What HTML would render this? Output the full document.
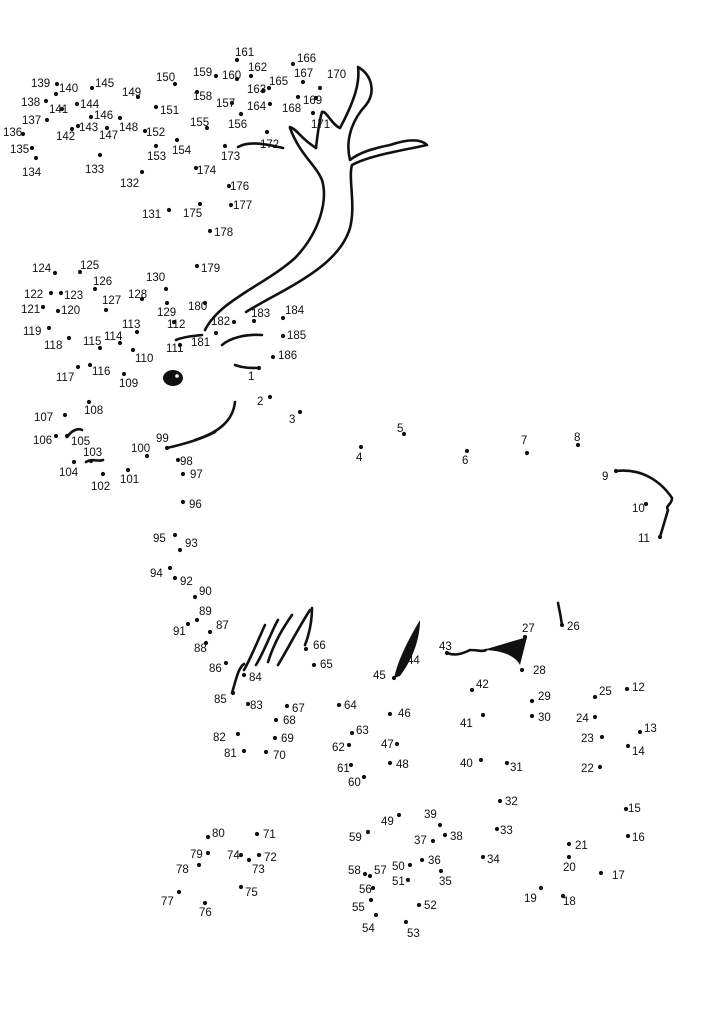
<!DOCTYPE html>
<html><head><meta charset="utf-8"><style>
html,body{margin:0;padding:0;background:#fff}
svg{display:block}
text{font-family:"Liberation Sans",Arial,sans-serif;font-size:11.5px;fill:#111}
</style></head><body>
<svg width="718" height="1032" viewBox="0 0 718 1032" xmlns="http://www.w3.org/2000/svg">
<g fill="none" stroke="#111" stroke-width="2.6" stroke-linecap="round" stroke-linejoin="round">
<path d="M205,330 C220,300 265,285 295,258 C320,232 328,200 322,180 C316,165 300,155 290,128"/>
<path d="M316,148 C300,138 298,130 290,127"/>
<path d="M316,148 C318,130 320,118 322,112"/>
<path d="M246,312 C285,288 338,268 350,228 C356,205 348,178 352,165 C370,155 405,150 427,145 C420,138 405,140 390,145 C375,148 360,152 350,160 C345,140 352,120 366,105 C376,92 372,75 358,67 C360,82 355,100 340,128 C332,125 326,110 322,112"/>
<path d="M238,147 C250,140 270,145 283,148"/>
<path d="M222,345 C230,338 245,334 262,335"/>
<path d="M235,365 C243,368 250,368 258,368"/>
<path d="M235,402 C233,420 220,432 195,440"/>
<path d="M176,340 C185,336 195,336 202,335"/>
<path d="M67,437 C72,430 78,428 82,430"/>
<path d="M86,462 C92,458 98,462 103,460"/>
<path d="M167,448 C180,445 200,440 215,432"/>
<path d="M616,471 C640,468 660,480 672,498 C672,505 665,505 668,510 C665,520 662,530 660,537"/>
<path d="M558,603 C560,612 561,618 562,625"/>
<path d="M232,693 C236,680 238,668 244,664 M244,670 C250,660 258,640 265,625 M256,665 C265,650 272,630 278,620 M268,662 C275,640 285,625 292,615 M278,665 C290,645 300,625 310,610 M305,645 C310,632 312,620 312,608"/>
<path d="M447,653 C455,656 462,654 470,650 M470,650 C478,650 483,652 486,650"/>
</g>
<path d="M483,650 L527,637 L520,665 C515,655 500,650 483,650 Z" fill="#111"/>
<path d="M394,678 C398,660 408,640 420,620 C420,640 412,660 400,676 Z" fill="#111"/>
<ellipse cx="173" cy="378" rx="10" ry="8" fill="#111"/>
<circle cx="177" cy="376" r="1.8" fill="#fff"/>
<g fill="#111">
<circle cx="259" cy="368" r="2.1"/><circle cx="270" cy="397" r="2.1"/><circle cx="300" cy="412" r="2.1"/><circle cx="361" cy="447" r="2.1"/><circle cx="404" cy="434" r="2.1"/><circle cx="467" cy="451" r="2.1"/><circle cx="527" cy="453" r="2.1"/><circle cx="578" cy="445" r="2.1"/><circle cx="616" cy="471" r="2.1"/><circle cx="646" cy="504" r="2.1"/><circle cx="660" cy="537" r="2.1"/><circle cx="627" cy="689" r="2.1"/><circle cx="640" cy="732" r="2.1"/><circle cx="628" cy="746" r="2.1"/><circle cx="626" cy="809" r="2.1"/><circle cx="628" cy="836" r="2.1"/><circle cx="601" cy="873" r="2.1"/><circle cx="563" cy="896" r="2.1"/><circle cx="541" cy="888" r="2.1"/><circle cx="569" cy="857" r="2.1"/><circle cx="569" cy="844" r="2.1"/><circle cx="600" cy="767" r="2.1"/><circle cx="602" cy="737" r="2.1"/><circle cx="595" cy="717" r="2.1"/><circle cx="595" cy="697" r="2.1"/><circle cx="562" cy="625" r="2.1"/><circle cx="525" cy="637" r="2.1"/><circle cx="522" cy="670" r="2.1"/><circle cx="532" cy="701" r="2.1"/><circle cx="532" cy="716" r="2.1"/><circle cx="507" cy="763" r="2.1"/><circle cx="500" cy="801" r="2.1"/><circle cx="497" cy="829" r="2.1"/><circle cx="483" cy="857" r="2.1"/><circle cx="441" cy="871" r="2.1"/><circle cx="422" cy="860" r="2.1"/><circle cx="433" cy="841" r="2.1"/><circle cx="445" cy="835" r="2.1"/><circle cx="440" cy="825" r="2.1"/><circle cx="481" cy="760" r="2.1"/><circle cx="483" cy="715" r="2.1"/><circle cx="472" cy="690" r="2.1"/><circle cx="447" cy="653" r="2.1"/><circle cx="408" cy="647" r="2.1"/><circle cx="394" cy="678" r="2.1"/><circle cx="390" cy="714" r="2.1"/><circle cx="397" cy="744" r="2.1"/><circle cx="390" cy="763" r="2.1"/><circle cx="399" cy="815" r="2.1"/><circle cx="410" cy="865" r="2.1"/><circle cx="408" cy="880" r="2.1"/><circle cx="419" cy="905" r="2.1"/><circle cx="406" cy="922" r="2.1"/><circle cx="376" cy="915" r="2.1"/><circle cx="371" cy="900" r="2.1"/><circle cx="373" cy="888" r="2.1"/><circle cx="370" cy="876" r="2.1"/><circle cx="365" cy="874" r="2.1"/><circle cx="368" cy="832" r="2.1"/><circle cx="364" cy="777" r="2.1"/><circle cx="351" cy="765" r="2.1"/><circle cx="349" cy="745" r="2.1"/><circle cx="352" cy="733" r="2.1"/><circle cx="339" cy="705" r="2.1"/><circle cx="314" cy="665" r="2.1"/><circle cx="306" cy="649" r="2.1"/><circle cx="287" cy="706" r="2.1"/><circle cx="276" cy="720" r="2.1"/><circle cx="275" cy="738" r="2.1"/><circle cx="266" cy="752" r="2.1"/><circle cx="257" cy="834" r="2.1"/><circle cx="259" cy="855" r="2.1"/><circle cx="249" cy="860" r="2.1"/><circle cx="241" cy="855" r="2.1"/><circle cx="241" cy="887" r="2.1"/><circle cx="205" cy="903" r="2.1"/><circle cx="179" cy="892" r="2.1"/><circle cx="199" cy="865" r="2.1"/><circle cx="208" cy="853" r="2.1"/><circle cx="208" cy="837" r="2.1"/><circle cx="244" cy="751" r="2.1"/><circle cx="238" cy="734" r="2.1"/><circle cx="248" cy="704" r="2.1"/><circle cx="244" cy="675" r="2.1"/><circle cx="233" cy="693" r="2.1"/><circle cx="226" cy="663" r="2.1"/><circle cx="210" cy="632" r="2.1"/><circle cx="206" cy="643" r="2.1"/><circle cx="197" cy="620" r="2.1"/><circle cx="195" cy="597" r="2.1"/><circle cx="188" cy="624" r="2.1"/><circle cx="175" cy="578" r="2.1"/><circle cx="180" cy="550" r="2.1"/><circle cx="170" cy="568" r="2.1"/><circle cx="175" cy="535" r="2.1"/><circle cx="183" cy="502" r="2.1"/><circle cx="183" cy="474" r="2.1"/><circle cx="178" cy="460" r="2.1"/><circle cx="167" cy="448" r="2.1"/><circle cx="147" cy="456" r="2.1"/><circle cx="128" cy="470" r="2.1"/><circle cx="103" cy="474" r="2.1"/><circle cx="91" cy="461" r="2.1"/><circle cx="74" cy="462" r="2.1"/><circle cx="67" cy="436" r="2.1"/><circle cx="56" cy="436" r="2.1"/><circle cx="65" cy="415" r="2.1"/><circle cx="89" cy="402" r="2.1"/><circle cx="124" cy="374" r="2.1"/><circle cx="133" cy="350" r="2.1"/><circle cx="180" cy="345" r="2.1"/><circle cx="174" cy="322" r="2.1"/><circle cx="137" cy="332" r="2.1"/><circle cx="120" cy="343" r="2.1"/><circle cx="100" cy="348" r="2.1"/><circle cx="90" cy="365" r="2.1"/><circle cx="78" cy="367" r="2.1"/><circle cx="69" cy="338" r="2.1"/><circle cx="49" cy="328" r="2.1"/><circle cx="58" cy="311" r="2.1"/><circle cx="43" cy="307" r="2.1"/><circle cx="51" cy="293" r="2.1"/><circle cx="61" cy="293" r="2.1"/><circle cx="55" cy="273" r="2.1"/><circle cx="80" cy="272" r="2.1"/><circle cx="95" cy="289" r="2.1"/><circle cx="106" cy="310" r="2.1"/><circle cx="142" cy="299" r="2.1"/><circle cx="167" cy="303" r="2.1"/><circle cx="166" cy="289" r="2.1"/><circle cx="169" cy="210" r="2.1"/><circle cx="142" cy="172" r="2.1"/><circle cx="100" cy="155" r="2.1"/><circle cx="36" cy="158" r="2.1"/><circle cx="32" cy="148" r="2.1"/><circle cx="23" cy="134" r="2.1"/><circle cx="47" cy="120" r="2.1"/><circle cx="46" cy="101" r="2.1"/><circle cx="57" cy="84" r="2.1"/><circle cx="56" cy="94" r="2.1"/><circle cx="62" cy="109" r="2.1"/><circle cx="72" cy="129" r="2.1"/><circle cx="78" cy="126" r="2.1"/><circle cx="77" cy="104" r="2.1"/><circle cx="92" cy="88" r="2.1"/><circle cx="91" cy="117" r="2.1"/><circle cx="107" cy="128" r="2.1"/><circle cx="120" cy="118" r="2.1"/><circle cx="138" cy="97" r="2.1"/><circle cx="175" cy="84" r="2.1"/><circle cx="156" cy="107" r="2.1"/><circle cx="145" cy="131" r="2.1"/><circle cx="156" cy="146" r="2.1"/><circle cx="177" cy="140" r="2.1"/><circle cx="207" cy="128" r="2.1"/><circle cx="241" cy="114" r="2.1"/><circle cx="232" cy="103" r="2.1"/><circle cx="197" cy="92" r="2.1"/><circle cx="216" cy="76" r="2.1"/><circle cx="237" cy="79" r="2.1"/><circle cx="237" cy="60" r="2.1"/><circle cx="251" cy="76" r="2.1"/><circle cx="263" cy="91" r="2.1"/><circle cx="270" cy="104" r="2.1"/><circle cx="269" cy="88" r="2.1"/><circle cx="293" cy="64" r="2.1"/><circle cx="303" cy="82" r="2.1"/><circle cx="298" cy="97" r="2.1"/><circle cx="316" cy="98" r="2.1"/><circle cx="320" cy="88" r="2.1"/><circle cx="313" cy="113" r="2.1"/><circle cx="267" cy="132" r="2.1"/><circle cx="225" cy="146" r="2.1"/><circle cx="196" cy="168" r="2.1"/><circle cx="200" cy="204" r="2.1"/><circle cx="229" cy="186" r="2.1"/><circle cx="231" cy="205" r="2.1"/><circle cx="210" cy="231" r="2.1"/><circle cx="197" cy="266" r="2.1"/><circle cx="205" cy="303" r="2.1"/><circle cx="216" cy="333" r="2.1"/><circle cx="234" cy="322" r="2.1"/><circle cx="254" cy="321" r="2.1"/><circle cx="283" cy="318" r="2.1"/><circle cx="283" cy="336" r="2.1"/><circle cx="273" cy="357" r="2.1"/>
</g>
<g>
<text x="248" y="380">1</text><text x="257" y="405">2</text><text x="289" y="423">3</text><text x="356" y="461">4</text><text x="397" y="432">5</text><text x="462" y="464">6</text><text x="521" y="444">7</text><text x="574" y="441">8</text><text x="602" y="480">9</text><text x="632" y="512">10</text><text x="638" y="542">11</text><text x="632" y="691">12</text><text x="644" y="732">13</text><text x="632" y="755">14</text><text x="628" y="812">15</text><text x="632" y="841">16</text><text x="612" y="879">17</text><text x="563" y="905">18</text><text x="524" y="902">19</text><text x="563" y="871">20</text><text x="575" y="849">21</text><text x="581" y="772">22</text><text x="581" y="742">23</text><text x="576" y="722">24</text><text x="599" y="695">25</text><text x="567" y="630">26</text><text x="522" y="632">27</text><text x="533" y="674">28</text><text x="538" y="700">29</text><text x="538" y="721">30</text><text x="510" y="771">31</text><text x="505" y="805">32</text><text x="500" y="834">33</text><text x="487" y="863">34</text><text x="439" y="885">35</text><text x="428" y="864">36</text><text x="414" y="844">37</text><text x="450" y="840">38</text><text x="424" y="818">39</text><text x="460" y="767">40</text><text x="460" y="727">41</text><text x="476" y="688">42</text><text x="439" y="650">43</text><text x="407" y="664">44</text><text x="373" y="679">45</text><text x="398" y="717">46</text><text x="381" y="748">47</text><text x="396" y="768">48</text><text x="381" y="825">49</text><text x="392" y="870">50</text><text x="392" y="885">51</text><text x="424" y="909">52</text><text x="407" y="937">53</text><text x="362" y="932">54</text><text x="352" y="911">55</text><text x="359" y="893">56</text><text x="374" y="874">57</text><text x="348" y="874">58</text><text x="349" y="841">59</text><text x="348" y="786">60</text><text x="337" y="772">61</text><text x="332" y="751">62</text><text x="356" y="734">63</text><text x="344" y="709">64</text><text x="320" y="668">65</text><text x="313" y="649">66</text><text x="292" y="712">67</text><text x="283" y="724">68</text><text x="281" y="742">69</text><text x="273" y="759">70</text><text x="263" y="838">71</text><text x="264" y="861">72</text><text x="252" y="873">73</text><text x="227" y="859">74</text><text x="245" y="896">75</text><text x="199" y="916">76</text><text x="161" y="905">77</text><text x="176" y="873">78</text><text x="190" y="858">79</text><text x="212" y="837">80</text><text x="224" y="757">81</text><text x="213" y="741">82</text><text x="250" y="709">83</text><text x="249" y="681">84</text><text x="214" y="703">85</text><text x="209" y="672">86</text><text x="216" y="629">87</text><text x="194" y="652">88</text><text x="199" y="615">89</text><text x="199" y="595">90</text><text x="173" y="635">91</text><text x="180" y="585">92</text><text x="185" y="547">93</text><text x="150" y="577">94</text><text x="153" y="542">95</text><text x="189" y="508">96</text><text x="190" y="478">97</text><text x="180" y="465">98</text><text x="156" y="442">99</text><text x="131" y="452">100</text><text x="120" y="483">101</text><text x="91" y="490">102</text><text x="83" y="456">103</text><text x="59" y="476">104</text><text x="71" y="445">105</text><text x="33" y="444">106</text><text x="34" y="421">107</text><text x="84" y="414">108</text><text x="119" y="387">109</text><text x="135" y="362">110</text><text x="166" y="352">111</text><text x="167" y="328">112</text><text x="122" y="328">113</text><text x="104" y="340">114</text><text x="83" y="345">115</text><text x="92" y="375">116</text><text x="56" y="381">117</text><text x="44" y="349">118</text><text x="23" y="335">119</text><text x="61" y="314">120</text><text x="21" y="313">121</text><text x="24" y="298">122</text><text x="64" y="299">123</text><text x="32" y="272">124</text><text x="80" y="269">125</text><text x="93" y="285">126</text><text x="102" y="304">127</text><text x="128" y="298">128</text><text x="157" y="316">129</text><text x="146" y="281">130</text><text x="142" y="218">131</text><text x="120" y="187">132</text><text x="85" y="173">133</text><text x="22" y="176">134</text><text x="10" y="153">135</text><text x="3" y="136">136</text><text x="22" y="124">137</text><text x="21" y="106">138</text><text x="31" y="87">139</text><text x="59" y="92">140</text><text x="49" y="113">141</text><text x="56" y="140">142</text><text x="79" y="131">143</text><text x="80" y="108">144</text><text x="95" y="87">145</text><text x="94" y="119">146</text><text x="99" y="139">147</text><text x="119" y="131">148</text><text x="122" y="96">149</text><text x="156" y="81">150</text><text x="160" y="114">151</text><text x="146" y="136">152</text><text x="147" y="160">153</text><text x="172" y="154">154</text><text x="190" y="126">155</text><text x="228" y="128">156</text><text x="216" y="107">157</text><text x="193" y="100">158</text><text x="193" y="76">159</text><text x="222" y="79">160</text><text x="235" y="56">161</text><text x="248" y="71">162</text><text x="247" y="93">163</text><text x="247" y="110">164</text><text x="269" y="85">165</text><text x="297" y="62">166</text><text x="294" y="77">167</text><text x="282" y="112">168</text><text x="303" y="104">169</text><text x="327" y="78">170</text><text x="311" y="128">171</text><text x="260" y="148">172</text><text x="221" y="160">173</text><text x="197" y="174">174</text><text x="183" y="217">175</text><text x="230" y="190">176</text><text x="233" y="209">177</text><text x="214" y="236">178</text><text x="201" y="272">179</text><text x="188" y="310">180</text><text x="191" y="346">181</text><text x="211" y="325">182</text><text x="251" y="317">183</text><text x="285" y="314">184</text><text x="287" y="339">185</text><text x="278" y="359">186</text>
</g>
</svg>
</body></html>
